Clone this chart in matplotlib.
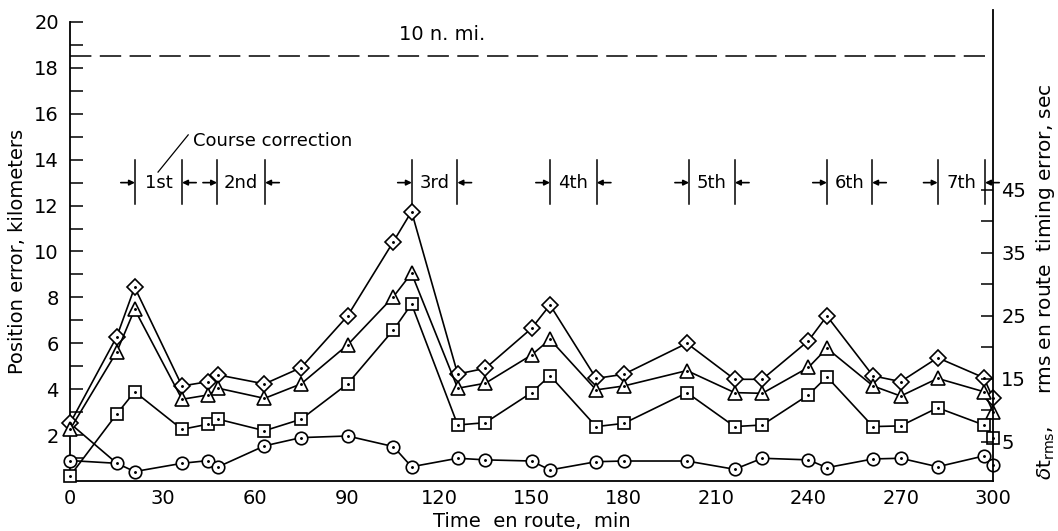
import matplotlib
matplotlib.use('Agg')
import matplotlib.pyplot as plt

# Time en route (min) for each plotted fix
t = [0, 15.2, 21, 36.4, 45, 48.2, 63.2, 75.1, 90.2, 105.1, 111, 126, 135, 150, 156,
     171, 180, 200.5, 216, 225, 240, 246, 261, 270, 282, 297, 300]

# Position error, km
diamond = [2.51, 6.29, 8.44, 4.14, 4.33, 4.62, 4.23, 4.94, 7.19, 10.43, 11.74, 4.66, 4.91, 6.65, 7.67,
           4.47, 4.65, 6.0, 4.43, 4.43, 6.11, 7.19, 4.58, 4.33, 5.37, 4.50, 3.60]
triangle = [2.25, 5.63, 7.48, 3.56, 3.75, 4.04, 3.60, 4.23, 5.93, 8.03, 9.05, 4.04, 4.26, 5.49, 6.17,
            3.97, 4.14, 4.81, 3.85, 3.82, 4.95, 5.78, 4.14, 3.70, 4.47, 3.89, 3.02]
square = [0.22, 2.92, 3.89, 2.25, 2.48, 2.69, 2.19, 2.69, 4.23, 6.58, 7.71, 2.44, 2.54, 3.85, 4.59,
          2.37, 2.51, 3.85, 2.37, 2.44, 3.75, 4.54, 2.37, 2.40, 3.19, 2.44, 1.86]
circle = [0.89, 0.77, 0.41, 0.77, 0.89, 0.62, 1.53, 1.89, 1.96, 1.50, 0.62, 0.99, 0.92, 0.87, 0.48,
          0.84, 0.87, 0.87, 0.51, 0.99, 0.92, 0.58, 0.96, 0.99, 0.62, 1.09, 0.70]

# Course correction windows (start, end) in minutes
corrections = ['1st', '2nd', '3rd', '4th', '5th', '6th', '7th']
corr_start = [21.1, 47.8, 111.1, 156.0, 201.2, 246.0, 282.0]
corr_end = [36.4, 63.4, 125.9, 171.2, 216.1, 260.7, 297.4]

limit_km = 18.52  # 10 n.mi.

x_ticks = [0, 30, 60, 90, 120, 150, 180, 210, 240, 270, 300]
y_ticks = [2, 4, 6, 8, 10, 12, 14, 16, 18, 20]
sec_ticks = [5, 10, 15, 20, 25, 30, 35, 40, 45]
sec_labels = ['5', '', '15', '', '25', '', '35', '', '45']

plt.rcParams['font.family'] = 'DejaVu Sans'
fig = plt.figure(figsize=(10.58, 5.31), dpi=100)
ax = fig.add_axes([0.0662, 0.0942, 0.8724, 0.8644])

lw = 1.2
ax.plot(t, diamond, color='black', lw=lw, marker='D', ms=8.5, mfc='white', mec='black', mew=1.2,
        clip_on=False, zorder=3)
ax.plot(t, triangle, color='black', lw=lw, marker='^', ms=9.5, mfc='white', mec='black', mew=1.2,
        clip_on=False, zorder=3)
ax.plot(t, square, color='black', lw=lw, marker='s', ms=9, mfc='white', mec='black', mew=1.2,
        clip_on=False, zorder=3)
ax.plot(t, circle, color='black', lw=lw, marker='o', ms=9, mfc='white', mec='black', mew=1.2,
        clip_on=False, zorder=3)
# extra branch at the start of the run
ax.plot([t[0], t[1]], [diamond[0], circle[1]], color='black', lw=lw, zorder=2)

# centre dots in the symbols
for series in [diamond, triangle, square, circle]:
    ax.plot(t, series, ls='none', marker='.', ms=2.2, color='black', clip_on=False, zorder=4)

# 10 n.mi. reference
ax.plot([0, 297.4], [limit_km, limit_km], color='black', lw=1.1, dashes=(14, 5.5))
ax.text(107, 19.45, '10 n. mi.', fontsize=14, va='center', ha='left')

# Course correction brackets
for name, a, b in zip(corrections, corr_start, corr_end):
    ax.plot([a, a], [12.05, 14.0], color='black', lw=1.1)
    ax.plot([b, b], [12.05, 14.0], color='black', lw=1.1)
    ax.annotate('', xy=(a, 13.0), xytext=(a - 4.6, 13.0),
                arrowprops=dict(arrowstyle='-|>', color='black', lw=1.2, mutation_scale=8,
                                shrinkA=0, shrinkB=0))
    ax.annotate('', xy=(b, 13.0), xytext=(b + 4.6, 13.0),
                arrowprops=dict(arrowstyle='-|>', color='black', lw=1.2, mutation_scale=8,
                                shrinkA=0, shrinkB=0))
    ax.text((a + b) / 2, 13.0, name, fontsize=13, ha='center', va='center')

ax.plot([28.6, 38.4], [13.46, 15.08], color='black', lw=0.9)
ax.text(40, 14.8, 'Course correction', fontsize=13, ha='left', va='center')

ax.set_xlim(0, 300)
ax.set_ylim(0, 20)
ax.set_xticks(x_ticks)
ax.set_yticks(y_ticks)
ax.set_yticks(range(1, 20, 2), minor=True)
ax.tick_params(axis='x', length=0, pad=6, labelsize=14)
ax.tick_params(axis='y', which='both', direction='in', length=9.5, width=1.1, pad=8, labelsize=14)
ax.spines['top'].set_visible(False)
ax.spines['right'].set_visible(False)
for s in ['left', 'bottom']:
    ax.spines[s].set_linewidth(1.3)

ax.set_xlabel('Time  en route,  min', fontsize=14, labelpad=3)
ax.set_ylabel('Position error, kilometers', fontsize=14, labelpad=5)

# timing error scale on the right
ax2 = ax.twinx()
ax2.set_ylim(-1.19, 71.67)
ax2.set_yticks(sec_ticks)
ax2.set_yticklabels(sec_labels)
ax2.tick_params(axis='y', direction='in', length=9, width=1.1, pad=6, labelsize=14)
for s in ['top', 'left', 'bottom']:
    ax2.spines[s].set_visible(False)
ax2.spines['right'].set_linewidth(1.3)
ax2.spines['right'].set_bounds(-1.19, 73.5)
fig.text(0.988, 0.469, r'$\delta\mathrm{t}_{\mathrm{rms}}$,     rms en route  timing error, sec',
         rotation=90, fontsize=14.5, ha='center', va='center')

fig.savefig('out.png', dpi=100)
